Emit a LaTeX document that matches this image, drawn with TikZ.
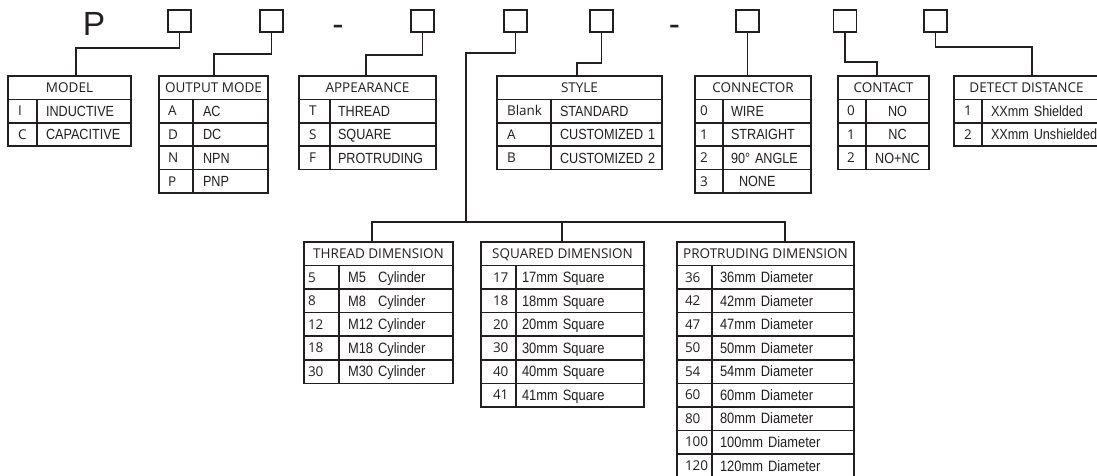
\documentclass[tikz,border=0pt]{standalone}
\usepackage{fontspec}
\setmainfont{Open Sans}
\newfontfamily\hf{Open Sans}
\newfontfamily\ef[FakeStretch=0.86]{Liberation Sans}
\newfontfamily\bigf{Liberation Sans}
\definecolor{ink}{HTML}{231F20}
\def\rowh{23.4}
\tikzset{
  ln/.style={draw=ink, line width=1.5pt},
  sq/.style={draw=ink, line width=1.5pt, minimum width=23pt, minimum height=22pt, inner sep=0pt, outer sep=0pt},
  big/.style={font=\bigf\fontsize{33.5}{34}\selectfont, text=ink, inner sep=0pt, anchor=base},
  cellbase/.style={draw=ink, line width=1.5pt, outer sep=0pt, inner ysep=0pt, minimum height=23.4pt, text=ink},
  hcell/.style={cellbase, inner xsep=0pt, font=\hf\fontsize{13.5}{14}\selectfont, text height=12.6pt, text depth=3pt},
  ccell/.style={cellbase, align=left, font=\hf\fontsize{13.5}{14}\selectfont, text height=12.6pt, text depth=3pt},
  tcell/.style={cellbase, align=left, font=\ef\fontsize{14.7}{15}\selectfont, text height=13.5pt, text depth=3pt},
}
% #1 name, #2 left x, #3 divider x, #4 right x, #5 top y, #6 header, #7 rows, #8 code pad, #9 text pad
\newcommand\mktab[9]{%
  \pgfmathsetlengthmacro\tabW{(#4-#2)*1pt}%
  \pgfmathsetlengthmacro\codeW{(#3-#2-2*#8)*1pt}%
  \pgfmathsetlengthmacro\textW{(#4-#3-2*#9)*1pt}%
  \node[hcell, minimum width=\tabW, anchor=north west] (#1) at (#2,#5) {#6};
  \foreach \cd/\tx [count=\i] in {#7} {%
    \node[ccell, text width=\codeW, inner xsep=#8pt, anchor=north west] (#1-c\i) at (#2,{#5+\i*\rowh}) {\mbox{\cd}};
    \node[tcell, text width=\textW, inner xsep=#9pt, anchor=north west] (#1-t\i) at (#3,{#5+\i*\rowh}) {\mbox{\tx}};
  }%
}
\begin{document}
\begin{tikzpicture}[x=1pt,y=-1pt]
\fill[white] (0,0) rectangle (1097,476);
\useasboundingbox (0,0) rectangle (1097,476);

% top code row
\node[big] (P) at (94,36) {P};
\node[sq] (b1) at (179.5,21) {};
\node[sq] (b2) at (271.5,21) {};
\node[big] (d1) at (338,36) {-};
\node[sq] (b3) at (422.5,21) {};
\node[sq] (b4) at (515.5,21) {};
\node[sq] (b5) at (601.5,21) {};
\node[big] (d2) at (674.5,36) {-};
\node[sq] (b6) at (747.5,21) {};
\node[sq] (b7) at (845,21) {};
\node[sq] (b8) at (935.5,21) {};

% upper tables
\mktab{model}{8}{37}{131}{76}{MODEL}{I/INDUCTIVE, C/CAPACITIVE}{10}{9}
\mktab{output}{159}{193}{268}{76}{OUTPUT MODE}{A/AC, D/DC, N/NPN, P/PNP}{9}{10}
\mktab{appear}{299}{330}{436}{76}{APPEARANCE}{T/THREAD, S/SQUARE, F/PROTRUDING}{10}{8}
\mktab{style}{497}{551}{662}{76}{STYLE}{Blank/STANDARD, A/CUSTOMIZED 1, B/CUSTOMIZED 2}{10}{9}
\mktab{conn}{695}{723}{811}{76}{CONNECTOR}{0/WIRE, 1/STRAIGHT, 2/90° ANGLE, 3/\hspace*{8pt}NONE}{5}{8}
\begin{scope}[tcell/.append style={align=center}]
\mktab{contact}{838}{866}{929}{76}{CONTACT}{0/NO, 1/NC, 2/NO+NC}{9}{2}
\end{scope}
\mktab{detect}{954}{982}{1099}{76}{DETECT DISTANCE}{1/XXmm Shielded, 2/XXmm Unshielded}{10}{9}

% lower tables
\begin{scope}[cellbase/.append style={minimum height=23.55pt},
              tcell/.append style={font=\ef\fontsize{15}{16}\selectfont, text height=13.7pt}]
\def\rowh{23.55}
\mktab{thread}{304}{339}{453}{242}{THREAD DIMENSION}{5/M5\phantom{1} Cylinder, 8/M8\phantom{1} Cylinder, 12/M12 Cylinder, 18/M18 Cylinder, 30/M30 Cylinder}{4}{9}
\mktab{squared}{481}{516}{644}{242}{SQUARED DIMENSION}{17/17mm Square, 18/18mm Square, 20/20mm Square, 30/30mm Square, 40/40mm Square, 41/41mm Square}{12}{6}
\mktab{prot}{677}{712}{854}{242}{PROTRUDING DIMENSION}{36/36mm Diameter, 42/42mm Diameter, 47/47mm Diameter, 50/50mm Diameter, 54/54mm Diameter, 60/60mm Diameter, 80/80mm Diameter, 100/100mm Diameter, 120/120mm Diameter}{8}{8}
\end{scope}

% connectors
\coordinate (k1) at (76,48);
\coordinate (k2) at (214,54);
\coordinate (k3) at (366,55);
\coordinate (k4) at (466,53);
\coordinate (k5) at (577,63);
\coordinate (k7) at (877,62);
\coordinate (k8) at (1032,47);
\coordinate (jn) at (466,222);
\coordinate (dT) at (372,222);
\coordinate (dS) at (562,222);
\coordinate (dP) at (785,222);

\draw[ln] (b1.south) |- (k1) -- (k1 |- model.north);
\draw[ln] (b2.south) |- (k2) -- (k2 |- output.north);
\draw[ln] (b3.south) |- (k3) -- (k3 |- appear.north);
\draw[ln] (b4.south) |- (k4) -- (jn);
\draw[ln] (b5.south) |- (k5) -- (k5 |- style.north);
\draw[ln] (b6.south) -- (b6.south |- conn.north);
\draw[ln] (b7.south) |- (k7) -- (k7 |- contact.north);
\draw[ln] (b8.south) |- (k8) -- (k8 |- detect.north);
\draw[ln] (dT |- thread.north) -- (dT) -- (dP) -- (dP |- prot.north);
\draw[ln] (dS) -- (dS |- squared.north);
\end{tikzpicture}
\end{document}
